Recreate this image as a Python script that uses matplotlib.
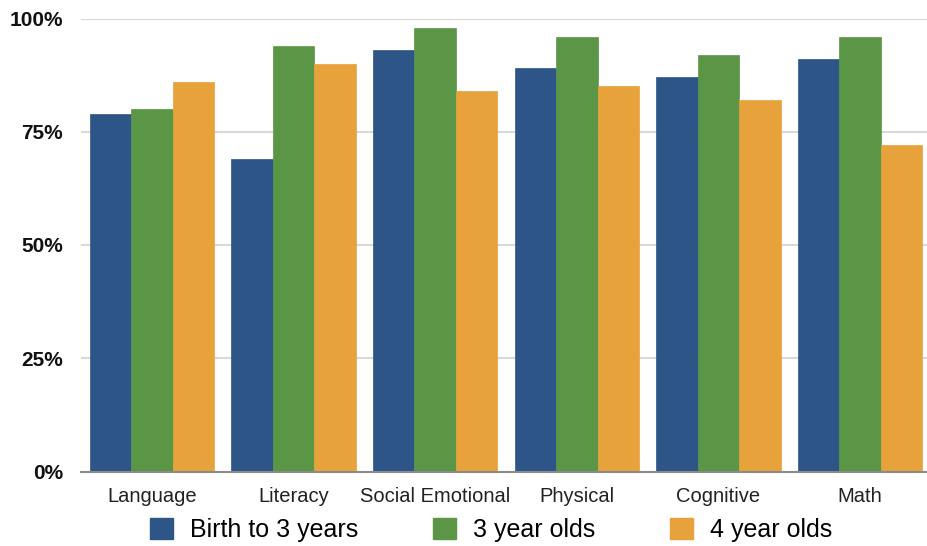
import matplotlib
matplotlib.use("Agg")
import matplotlib.pyplot as plt
import numpy as np
from matplotlib.patches import Patch

categories = ["Language", "Literacy", "Social Emotional", "Physical", "Cognitive", "Math"]
series_names = ["Birth to 3 years", "3 year olds", "4 year olds"]
birth_to_3 = [79, 69, 93, 89, 87, 91]
three_year = [80, 94, 98, 96, 92, 96]
four_year = [86, 90, 84, 85, 82, 72]
yticks = [0, 25, 50, 75, 100]
ytick_labels = ["0%", "25%", "50%", "75%", "100%"]

colors = ["#2E5587", "#5B9646", "#E8A23C"]

plt.rcParams['font.family'] = ['Liberation Sans', 'DejaVu Sans']

fig = plt.figure(figsize=(9.27, 5.46), dpi=100)
ax = fig.add_axes([81/927, 74.5/546, 850/927, 453/546])

x = np.arange(len(categories))
w = 0.293
for i, (vals, c) in enumerate(zip([birth_to_3, three_year, four_year], colors)):
    ax.bar(x + (i - 1) * w, vals, width=w, color=c, edgecolor=c, linewidth=0.5, zorder=3)

ax.set_xlim(-0.5, len(categories) - 0.5)
ax.set_ylim(0, 100)
ax.set_yticks(yticks)
ax.set_yticklabels(ytick_labels, fontsize=15, fontweight='bold', color='#111111')
ax.set_xticks(x)
ax.set_xticklabels(categories, fontsize=14.5, color='#222222')
ax.tick_params(axis='y', length=0, pad=13)
ax.tick_params(axis='x', length=0, pad=11)
ax.grid(axis='y', color='#d9d9d9', linewidth=1.5, zorder=0)
ax.set_axisbelow(True)
for s in ['top', 'right', 'left']:
    ax.spines[s].set_visible(False)
ax.spines['bottom'].set_color('#8a8a8a')
ax.spines['bottom'].set_linewidth(1.5)
ax.spines['bottom'].set_zorder(4)

handles = [Patch(facecolor=c, edgecolor=c) for c in colors]
fig.legend(handles, series_names, loc='center', bbox_to_anchor=(491/927, 16/546),
           ncol=3, frameon=False, fontsize=18, handlelength=0.92, handleheight=0.92,
           handletextpad=0.68, columnspacing=3.0, borderpad=0, borderaxespad=0)

fig.savefig("out.png", dpi=100)
